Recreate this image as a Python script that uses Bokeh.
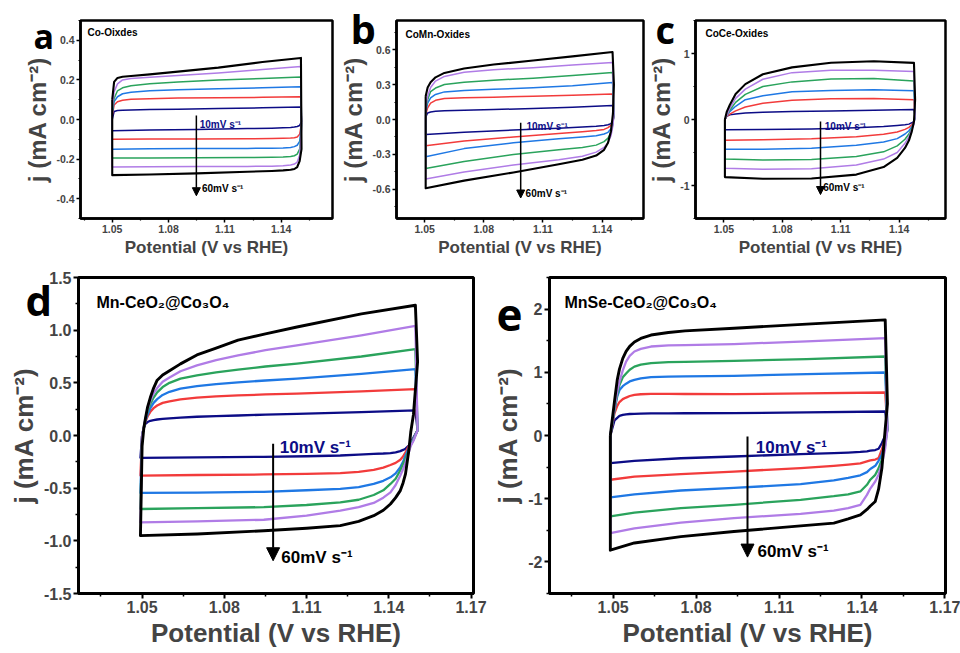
from bokeh.plotting import figure
from bokeh.models import Range1d, FixedTicker, PrintfTickFormatter, Label, Arrow, NormalHead, Title
from bokeh.layouts import column, row
from bokeh.embed import file_html
from bokeh.resources import INLINE

SCAN_RATES = ["10", "20", "30", "40", "50", "60"]  # mV/s, order of the six loops
COLORS = ["#0c0c86", "#f23b3b", "#1f78e4", "#2aa35c", "#b07ce6", "#000000"]
FONT = "Liberation Sans"

A_XU = [1.0500, 1.0510, 1.0528, 1.0555, 1.0600, 1.0700, 1.0850, 1.1065, 1.1300, 1.1505]
A_YU = [
    [0.00, 0.040, 0.045, 0.047, 0.048, 0.050, 0.052, 0.055, 0.059, 0.063],
    [0.02, 0.073, 0.090, 0.097, 0.102, 0.105, 0.108, 0.110, 0.112, 0.115],
    [0.03, 0.090, 0.115, 0.130, 0.138, 0.145, 0.150, 0.155, 0.160, 0.165],
    [0.04, 0.106, 0.145, 0.160, 0.170, 0.180, 0.190, 0.200, 0.207, 0.215],
    [0.05, 0.140, 0.180, 0.200, 0.207, 0.213, 0.222, 0.235, 0.252, 0.268],
    [0.10, 0.190, 0.210, 0.216, 0.220, 0.228, 0.242, 0.262, 0.290, 0.311],
]
A_XL = [1.1508, 1.1498, 1.1485, 1.1470, 1.1450, 1.1410, 1.1350, 1.1220, 1.0950, 1.0700, 1.0500]
A_YL = [
    [-0.010, -0.030, -0.035, -0.038, -0.040, -0.042, -0.044, -0.046, -0.050, -0.053, -0.057],
    [-0.020, -0.075, -0.088, -0.092, -0.094, -0.095, -0.096, -0.097, -0.098, -0.099, -0.100],
    [-0.030, -0.110, -0.130, -0.137, -0.141, -0.144, -0.145, -0.146, -0.147, -0.148, -0.150],
    [-0.040, -0.150, -0.175, -0.183, -0.187, -0.190, -0.191, -0.192, -0.193, -0.194, -0.195],
    [-0.050, -0.180, -0.215, -0.225, -0.230, -0.234, -0.236, -0.237, -0.238, -0.239, -0.240],
    [-0.150, -0.210, -0.240, -0.250, -0.254, -0.257, -0.260, -0.264, -0.272, -0.278, -0.281],
]

B_XU = [1.0505, 1.0515, 1.0530, 1.0555, 1.0600, 1.0700, 1.0850, 1.1050, 1.1250, 1.1453]
B_YU = [
    [0.02, 0.056, 0.065, 0.070, 0.075, 0.079, 0.085, 0.095, 0.106, 0.121],
    [0.04, 0.100, 0.140, 0.165, 0.180, 0.187, 0.192, 0.200, 0.208, 0.220],
    [0.06, 0.140, 0.185, 0.215, 0.237, 0.250, 0.260, 0.272, 0.290, 0.317],
    [0.08, 0.170, 0.240, 0.270, 0.300, 0.320, 0.338, 0.355, 0.378, 0.404],
    [0.10, 0.200, 0.275, 0.330, 0.370, 0.405, 0.428, 0.445, 0.468, 0.490],
    [0.20, 0.275, 0.320, 0.362, 0.400, 0.438, 0.472, 0.506, 0.542, 0.579],
]
B_XL = [1.1460, 1.1455, 1.1445, 1.1430, 1.1410, 1.1370, 1.1300, 1.1180, 1.0950, 1.0700, 1.0505]
B_YL = [
    [0.03, -0.010, -0.035, -0.045, -0.052, -0.058, -0.065, -0.075, -0.090, -0.110, -0.129],
    [0.04, -0.020, -0.050, -0.070, -0.085, -0.095, -0.105, -0.120, -0.150, -0.185, -0.225],
    [0.05, -0.030, -0.080, -0.110, -0.125, -0.140, -0.150, -0.165, -0.200, -0.250, -0.320],
    [0.05, -0.040, -0.110, -0.160, -0.190, -0.220, -0.240, -0.260, -0.300, -0.360, -0.420],
    [0.05, -0.050, -0.140, -0.200, -0.240, -0.280, -0.315, -0.345, -0.390, -0.450, -0.510],
    [0.30, 0.050, -0.100, -0.200, -0.260, -0.310, -0.345, -0.385, -0.455, -0.525, -0.590],
]

C_XU = [1.0505, 1.0515, 1.0530, 1.0560, 1.0610, 1.0700, 1.0850, 1.1050, 1.1270, 1.1476]
C_YU = [
    [0.0, 0.05, 0.07, 0.085, 0.10, 0.110, 0.12, 0.130, 0.140, 0.150],
    [0.0, 0.05, 0.08, 0.130, 0.19, 0.245, 0.29, 0.315, 0.318, 0.300],
    [0.0, 0.06, 0.12, 0.200, 0.30, 0.360, 0.42, 0.440, 0.449, 0.434],
    [0.0, 0.06, 0.14, 0.260, 0.38, 0.500, 0.57, 0.615, 0.620, 0.584],
    [0.0, 0.06, 0.17, 0.320, 0.46, 0.610, 0.71, 0.745, 0.745, 0.728],
    [0.0, 0.12, 0.22, 0.385, 0.536, 0.685, 0.79, 0.860, 0.883, 0.858],
]
C_XL = [1.1482, 1.1476, 1.1465, 1.1450, 1.1430, 1.1390, 1.1320, 1.1180, 1.0950, 1.0700, 1.0505]
C_YL = [
    [0.04, -0.03, -0.05, -0.07, -0.08, -0.09, -0.105, -0.125, -0.145, -0.152, -0.155],
    [0.05, -0.04, -0.08, -0.12, -0.15, -0.19, -0.225, -0.260, -0.290, -0.305, -0.314],
    [0.05, -0.05, -0.11, -0.17, -0.22, -0.29, -0.340, -0.390, -0.435, -0.449, -0.449],
    [0.05, -0.06, -0.13, -0.22, -0.30, -0.40, -0.490, -0.560, -0.605, -0.612, -0.598],
    [0.05, -0.07, -0.15, -0.26, -0.36, -0.50, -0.600, -0.690, -0.745, -0.752, -0.738],
    [0.30, -0.03, -0.18, -0.32, -0.43, -0.58, -0.720, -0.835, -0.895, -0.898, -0.873],
]

D_XU = [1.0500, 1.0506, 1.0512, 1.0520, 1.0530, 1.0542, 1.0555, 1.0575, 1.0600,
        1.0640, 1.0700, 1.0770, 1.0850, 1.0950, 1.1065, 1.1300, 1.1497]
D_YU = [
    [0.00, 0.07, 0.11, 0.128, 0.140, 0.147, 0.152, 0.157, 0.162, 0.170, 0.178, 0.184, 0.190, 0.198, 0.206, 0.222, 0.238],
    [0.00, 0.07, 0.13, 0.180, 0.225, 0.260, 0.285, 0.310, 0.325, 0.342, 0.360, 0.372, 0.380, 0.390, 0.397, 0.418, 0.440],
    [0.00, 0.07, 0.14, 0.200, 0.260, 0.310, 0.345, 0.385, 0.415, 0.445, 0.468, 0.488, 0.505, 0.522, 0.539, 0.585, 0.630],
    [0.00, 0.07, 0.15, 0.230, 0.300, 0.360, 0.410, 0.460, 0.500, 0.540, 0.570, 0.600, 0.625, 0.655, 0.682, 0.750, 0.820],
    [0.00, 0.08, 0.16, 0.250, 0.330, 0.400, 0.450, 0.510, 0.550, 0.610, 0.665, 0.715, 0.760, 0.810, 0.856, 0.950, 1.040],
    [-0.10, 0.064, 0.16, 0.270, 0.360, 0.450, 0.525, 0.575, 0.615, 0.680, 0.765, 0.830, 0.905, 0.965, 1.030, 1.155, 1.237],
]
D_XL = [1.1505, 1.1490, 1.1480, 1.1473, 1.1461, 1.1452, 1.1442, 1.1425, 1.1406,
        1.1380, 1.1345, 1.1290, 1.1223, 1.1100, 1.0944, 1.0701, 1.0494]
D_YL = [
    [0.05, -0.02, -0.06, -0.095, -0.125, -0.137, -0.148, -0.160, -0.167, -0.171, -0.174, -0.182, -0.190, -0.197, -0.203, -0.208, -0.212],
    [0.05, -0.03, -0.07, -0.100, -0.160, -0.200, -0.230, -0.260, -0.280, -0.305, -0.327, -0.345, -0.358, -0.365, -0.370, -0.375, -0.380],
    [0.05, -0.03, -0.08, -0.120, -0.190, -0.250, -0.300, -0.360, -0.397, -0.430, -0.460, -0.490, -0.507, -0.520, -0.535, -0.542, -0.545],
    [0.05, -0.04, -0.09, -0.140, -0.220, -0.270, -0.330, -0.410, -0.460, -0.520, -0.565, -0.610, -0.635, -0.660, -0.680, -0.690, -0.698],
    [0.05, -0.05, -0.10, -0.160, -0.260, -0.320, -0.380, -0.470, -0.540, -0.590, -0.640, -0.680, -0.714, -0.760, -0.800, -0.815, -0.825],
    [0.70, 0.20, 0.03, -0.143, -0.364, -0.450, -0.523, -0.590, -0.650, -0.710, -0.761, -0.815, -0.856, -0.880, -0.904, -0.935, -0.951],
]

E_XU = [1.0490, 1.0505, 1.0515, 1.0523, 1.0535, 1.0547, 1.0560, 1.0577, 1.0600,
        1.0637, 1.0700, 1.0760, 1.0937, 1.1200, 1.1484]
E_YU = [
    [0.0, 0.24, 0.28, 0.31, 0.325, 0.335, 0.340, 0.343, 0.346, 0.350, 0.351, 0.352, 0.354, 0.365, 0.380],
    [0.0, 0.35, 0.47, 0.53, 0.575, 0.600, 0.625, 0.644, 0.653, 0.660, 0.659, 0.657, 0.655, 0.665, 0.680],
    [0.0, 0.40, 0.62, 0.72, 0.780, 0.820, 0.855, 0.880, 0.905, 0.924, 0.930, 0.935, 0.945, 0.970, 0.997],
    [0.0, 0.42, 0.65, 0.80, 0.920, 0.980, 1.040, 1.090, 1.120, 1.146, 1.160, 1.165, 1.180, 1.210, 1.250],
    [0.0, 0.45, 0.70, 0.85, 1.030, 1.170, 1.260, 1.329, 1.370, 1.408, 1.425, 1.430, 1.446, 1.490, 1.541],
    [0.0, 0.54, 0.88, 1.05, 1.220, 1.330, 1.410, 1.480, 1.535, 1.590, 1.630, 1.655, 1.698, 1.762, 1.830],
]
E_XL = [1.1492, 1.1484, 1.1472, 1.1460, 1.1448, 1.1430, 1.1418, 1.1394, 1.1350,
        1.1298, 1.1178, 1.0937, 1.0745, 1.0577, 1.0490]
E_YL = [
    [0.10, 0.00, -0.120, -0.210, -0.230, -0.240, -0.250, -0.260, -0.270, -0.280, -0.295, -0.332, -0.360, -0.400, -0.437],
    [0.10, -0.05, -0.220, -0.358, -0.380, -0.395, -0.410, -0.440, -0.460, -0.480, -0.516, -0.570, -0.610, -0.650, -0.700],
    [0.10, -0.10, -0.300, -0.400, -0.480, -0.530, -0.580, -0.630, -0.670, -0.710, -0.770, -0.830, -0.870, -0.930, -0.980],
    [0.10, -0.15, -0.380, -0.520, -0.622, -0.700, -0.780, -0.886, -0.930, -0.960, -1.017, -1.097, -1.150, -1.220, -1.280],
    [0.10, -0.20, -0.450, -0.620, -0.728, -0.840, -0.940, -1.097, -1.150, -1.190, -1.240, -1.307, -1.380, -1.470, -1.545],
    [0.50, 0.10, -0.516, -0.850, -1.044, -1.115, -1.170, -1.255, -1.320, -1.386, -1.430, -1.519, -1.600, -1.700, -1.815],
]

X_TICKS_TOP = [1.05, 1.08, 1.11, 1.14]
X_TICKS_BOT = [1.05, 1.08, 1.11, 1.14, 1.17]
X_MINOR = [1.035, 1.065, 1.095, 1.125, 1.155]
X_TITLE = "Potential (V vs RHE)"
Y_TITLE = "j (mA cm\u207b\u00b2)"
LOW_TXT = "10mV s\u207b\u00b9"
HIGH_TXT = "60mV s\u207b\u00b9"


def make_panel(xu, yu, xl, yl, xr, yr, yt, ymt, yfmt, xt, w, h, bl, br, bt, bb, big,
               letter, letter_fs, letter_offset, letter_standoff,
               name, name_xy, arrow, low_xy, high_xy):
    p = figure(width=w, height=h, x_range=Range1d(*xr), y_range=Range1d(*yr),
               output_backend="svg", toolbar_location=None,
               min_border_left=bl, min_border_right=br, min_border_top=bt, min_border_bottom=bb)
    p.grid.visible = False
    p.background_fill_color = "white"
    p.border_fill_color = "white"
    p.outline_line_color = "black"
    p.outline_line_width = 3 if big else 2.5
    p.outline_line_alpha = 1.0

    tick_fs = "16px" if big else "10.5px"
    xt_fs = "26px" if big else "17px"
    yt_fs = "26px" if big else "24px"
    for ax in (p.xaxis[0], p.yaxis[0]):
        ax.axis_line_width = 3 if big else 2.5
        ax.major_tick_line_width = 2 if big else 1.5
        ax.minor_tick_line_width = 1.5 if big else 1.2
        ax.major_tick_in = 0
        ax.major_tick_out = 5 if big else 4
        ax.minor_tick_in = 0
        ax.minor_tick_out = 3 if big else 2
        ax.major_label_text_font = FONT
        ax.major_label_text_font_style = "bold"
        ax.major_label_text_font_size = tick_fs
        ax.major_label_standoff = 2
        ax.axis_label_text_font = FONT
        ax.axis_label_text_font_style = "bold"
        ax.axis_label_standoff = 2
    p.xaxis.ticker = FixedTicker(ticks=xt, minor_ticks=X_MINOR)
    p.xaxis.formatter = PrintfTickFormatter(format="%.2f")
    p.xaxis.axis_label = X_TITLE
    p.xaxis.axis_label_text_font_size = xt_fs
    p.yaxis.ticker = FixedTicker(ticks=yt, minor_ticks=ymt)
    p.yaxis.formatter = PrintfTickFormatter(format=yfmt)
    p.yaxis.axis_label = Y_TITLE
    p.yaxis.axis_label_text_font_size = yt_fs

    lw = 2.3 if big else 1.5
    for i in range(6):
        xs = xu + xl + [xu[0]]
        ys = yu[i] + yl[i] + [yu[i][0]]
        p.line(xs, ys, line_color=COLORS[i], line_width=(lw + 0.6 if i == 5 else lw),
               line_join="round")

    # panel letter, drawn in the top border panel so it is not clipped by the frame
    p.add_layout(Title(text=letter, align="left", vertical_align="bottom",
                       offset=letter_offset, standoff=letter_standoff,
                       text_font="Open Sans", text_font_style="bold",
                       text_font_size=letter_fs, text_color="black"), "above")
    p.add_layout(Label(x=name_xy[0], y=name_xy[1], x_units="screen", y_units="screen",
                       text=name, text_font=FONT, text_font_style="bold",
                       text_font_size=("16px" if big else "10px"), text_color="black",
                       text_baseline="alphabetic"))
    p.add_layout(Arrow(end=NormalHead(size=(13 if big else 8), fill_color="black",
                                      line_color="black", line_width=1),
                       x_start=arrow[0], y_start=arrow[1], x_end=arrow[0], y_end=arrow[2],
                       line_color="black", line_width=(2 if big else 1.5)))
    rate_fs = "17px" if big else "10px"
    p.add_layout(Label(x=low_xy[0], y=low_xy[1], text=LOW_TXT, text_font=FONT,
                       text_font_style="bold", text_font_size=rate_fs,
                       text_color=COLORS[0], text_baseline="alphabetic"))
    p.add_layout(Label(x=high_xy[0], y=high_xy[1], text=HIGH_TXT, text_font=FONT,
                       text_font_style="bold", text_font_size=rate_fs,
                       text_color="black", text_baseline="alphabetic"))
    return p


pa = make_panel(A_XU, A_YU, A_XL, A_YL, (1.0331, 1.1673), (-0.5, 0.5),
                [-0.4, -0.2, 0.0, 0.2, 0.4], [-0.5, -0.3, -0.1, 0.1, 0.3, 0.5], "%.1f",
                X_TICKS_TOP, 337, 265, 80, 5, 17, 47, False,
                "a", "34px", -47, -77, "Co-Oixdes", (7, 186),
                (1.0948, 0.02, -0.385), (1.0966, -0.027), (1.0978, -0.351))
pb = make_panel(B_XU, B_YU, B_XL, B_YL, (1.0357, 1.1610), (-0.85, 0.85),
                [-0.6, -0.3, 0.0, 0.3, 0.6], [-0.75, -0.45, -0.15, 0.15, 0.45, 0.75], "%.1f",
                X_TICKS_TOP, 308, 265, 55, 2, 19, 45, False,
                "b", "40px", -46, -71, "CoMn-Oxides", (9, 184),
                (1.0987, -0.028, -0.674), (1.1016, -0.056), (1.1012, -0.638))
pc = make_panel(C_XU, C_YU, C_XL, C_YL, (1.0354, 1.1638), (-1.5, 1.5),
                [-1, 0, 1], [-1.5, -0.5, 0.5, 1.5], "%d",
                X_TICKS_TOP, 315, 265, 48, 15, 20, 44, False,
                "c", "38px", -40, -68, "CoCe-Oxides", (10, 185),
                (1.0996, -0.03, -1.137), (1.1018, -0.105), (1.1010, -1.03))
pd = make_panel(D_XU, D_YU, D_XL, D_YL, (1.0268, 1.1709), (-1.5, 1.5),
                [-1.5, -1.0, -0.5, 0.0, 0.5, 1.0, 1.5],
                [-1.25, -0.75, -0.25, 0.25, 0.75, 1.25], "%.1f",
                X_TICKS_BOT, 490, 388, 78, 17, 12, 60, True,
                "d", "42px", -53, -101, "Mn-CeO\u2082@Co\u2083O\u2084", (18, 291),
                (1.0978, -0.079, -1.189), (1.1002, -0.111), (1.1008, -1.158))
pe = make_panel(E_XU, E_YU, E_XL, E_YL, (1.0270, 1.1702), (-2.5, 2.5),
                [-2, -1, 0, 1, 2], [-2.5, -1.5, -0.5, 0.5, 1.5, 2.5], "%d",
                X_TICKS_BOT, 470, 388, 58, 15, 10, 60, True,
                "e", "44px", -53, -106, "MnSe-CeO\u2082@Co\u2083O\u2084", (15, 291),
                (1.0986, -0.016, -1.924), (1.1016, -0.19), (1.1022, -1.835))

layout = column(row(pa, pb, pc), row(pd, pe))
open("out.html", "w").write(file_html(layout, INLINE))
